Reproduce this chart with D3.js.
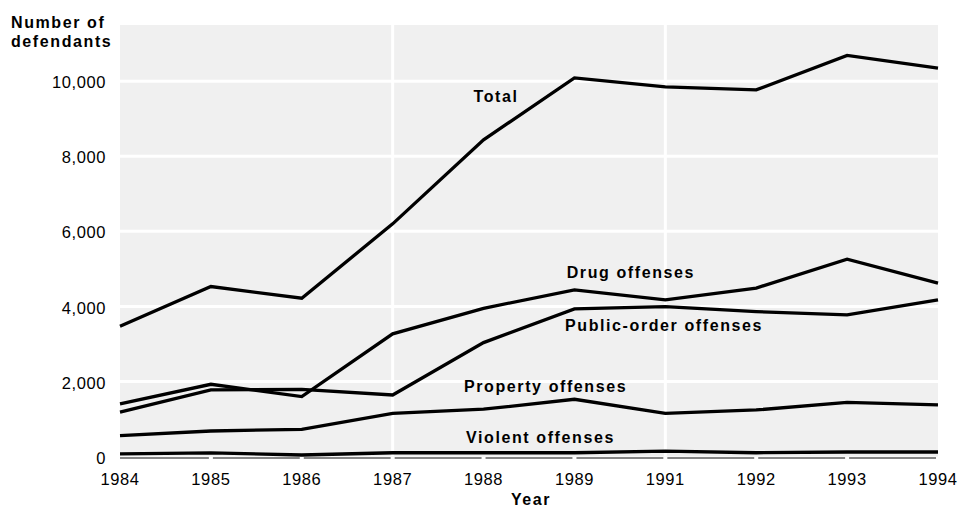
<!DOCTYPE html>
<html>
<head>
<meta charset="utf-8">
<script src="https://cdn.jsdelivr.net/npm/d3@7"></script>
<style>
  body { margin: 0; background: #fff; }
  text { font-family: "Liberation Sans", Arial, Helvetica, sans-serif; fill: #000; }
  .lbl { font-weight: bold; font-size: 16px; letter-spacing: 1.6px; }
  .tick { font-size: 16.5px; letter-spacing: 0.6px; }
</style>
</head>
<body>
<div id="chart"></div>
<script>
var years = ["1984", "1985", "1986", "1987", "1988", "1989", "1991", "1992", "1993", "1994"];
var total = [3470, 4530, 4220, 6200, 8440, 10090, 9850, 9770, 10690, 10350];
var drug = [1400, 1925, 1595, 3270, 3950, 4440, 4175, 4490, 5260, 4620];
var publicOrder = [1180, 1775, 1790, 1640, 3035, 3935, 3995, 3860, 3775, 4175];
var property = [555, 680, 725, 1150, 1260, 1525, 1150, 1240, 1445, 1375];
var violent = [70, 95, 40, 100, 100, 100, 145, 100, 120, 120];
var yTicks = [0, 2000, 4000, 6000, 8000, 10000];
var seriesNames = ["Total", "Drug offenses", "Public-order offenses", "Property offenses", "Violent offenses"];

var series = [total, drug, publicOrder, property, violent];

// label anchors in data units: [year index position, value]
var labelAt = [[3.89, 9450], [4.915, 4760], [4.896, 3340], [3.785, 1725], [3.807, 352]];

var width = 959, height = 508,
    pLeft = 120, pRight = 938, pTop = 25, pBottom = 456.5;

var svg = d3.select("#chart").append("svg")
    .attr("width", width)
    .attr("height", height);

var x = d3.scalePoint().domain(years).range([pLeft, pRight]);
var y = d3.scaleLinear().domain([0, 11500]).range([pBottom, pTop]);
var step = x.step();

svg.append("rect")
    .attr("x", pLeft).attr("y", pTop)
    .attr("width", pRight - pLeft).attr("height", pBottom - pTop)
    .attr("fill", "#f0f0f0");

// white grid
svg.selectAll("line.hgrid")
    .data(yTicks.filter(function(d){ return d > 0; }))
    .enter().append("line")
    .attr("x1", pLeft).attr("x2", pRight)
    .attr("y1", function(d){ return y(d); })
    .attr("y2", function(d){ return y(d); })
    .attr("stroke", "#fff").attr("stroke-width", 3);

svg.selectAll("line.vgrid")
    .data(["1987", "1991"])
    .enter().append("line")
    .attr("x1", function(d){ return x(d); })
    .attr("x2", function(d){ return x(d); })
    .attr("y1", pTop).attr("y2", pBottom)
    .attr("stroke", "#fff").attr("stroke-width", 3);

// baseline broken at each year
svg.selectAll("line.base")
    .data(years.slice(1))
    .enter().append("line")
    .attr("x1", function(d, i){ return x(years[i]) + (i == 0 ? 0 : 2); })
    .attr("x2", function(d, i){ return x(d) - 2; })
    .attr("y1", pBottom + 1.5).attr("y2", pBottom + 1.5)
    .attr("stroke", "#858585").attr("stroke-width", 2);

var line = d3.line()
    .x(function(d, i){ return x(years[i]); })
    .y(function(d){ return y(d); });

svg.selectAll("path.series")
    .data(series)
    .enter().append("path")
    .attr("d", line)
    .attr("fill", "none")
    .attr("stroke", "#000")
    .attr("stroke-width", 3.3)
    .attr("stroke-linejoin", "miter");

svg.selectAll("text.name")
    .data(seriesNames)
    .enter().append("text")
    .attr("class", "lbl")
    .attr("x", function(d, i){ return pLeft + labelAt[i][0] * step; })
    .attr("y", function(d, i){ return y(labelAt[i][1]); })
    .text(function(d){ return d; });

// y tick labels
svg.selectAll("text.ytick")
    .data(yTicks)
    .enter().append("text")
    .attr("class", "tick")
    .attr("x", 106)
    .attr("y", function(d){ return y(d); })
    .attr("dy", "0.43em")
    .attr("text-anchor", "end")
    .text(function(d){ return d3.format(",")(d); });

// x tick labels
svg.selectAll("text.xtick")
    .data(years)
    .enter().append("text")
    .attr("class", "tick")
    .attr("x", function(d){ return x(d); })
    .attr("y", 485)
    .attr("text-anchor", "middle")
    .text(function(d){ return d; });

svg.append("text")
    .attr("class", "lbl")
    .attr("x", (pLeft + pRight) / 2 + 2)
    .attr("y", 505)
    .attr("text-anchor", "middle")
    .text("Year");

var ytitle = svg.append("text")
    .attr("class", "lbl")
    .attr("x", 11).attr("y", 28);
ytitle.append("tspan").attr("x", 11).text("Number of");
ytitle.append("tspan").attr("x", 11).attr("dy", 19).text("defendants");
</script>
</body>
</html>
